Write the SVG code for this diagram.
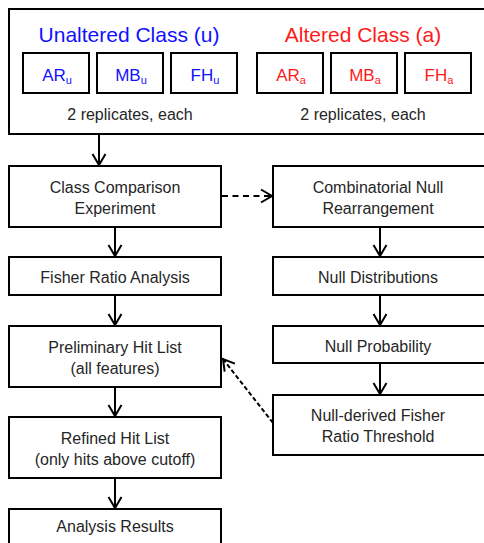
<svg xmlns="http://www.w3.org/2000/svg" width="484" height="543" viewBox="0 0 484 543">
<style>
.box{fill:#fff;stroke:#000;stroke-width:2}
.t{font-family:"Liberation Sans",Arial,sans-serif;font-size:16px;fill:#262626;text-anchor:middle}
.h{font-family:"Liberation Sans",Arial,sans-serif;font-size:21px;text-anchor:middle}
.s{font-family:"Liberation Sans",Arial,sans-serif;font-size:17px;text-anchor:middle}
.blue{fill:#1010ff}
.red{fill:#ff1a1a}
.sub{font-size:11px}
.c{fill:none;stroke:#000;stroke-width:2}
.d1{stroke-dasharray:6,4.5}
.d2{stroke-dasharray:4.5,2.5}
</style>
<defs>
<marker id="ah" markerUnits="userSpaceOnUse" viewBox="-14 -8 16 16" markerWidth="16" markerHeight="16" refX="0" refY="0" orient="auto">
<path d="M-11,-6.5 L0,0 L-11,6.5" fill="none" stroke="#000" stroke-width="2"/>
</marker>
</defs>
<rect width="484" height="543" fill="#fff"/>

<g id="classes">
<rect class="box" x="9" y="9" width="490" height="125"/>
<text class="h blue" x="129" y="41.5">Unaltered Class (u)</text>
<text class="h red" x="363" y="41.5">Altered Class (a)</text>
<g id="ARu"><rect class="box" x="23" y="53" width="66" height="40"/><text class="s blue" x="57" y="81">AR<tspan class="sub" dy="3">u</tspan></text></g>
<g id="MBu"><rect class="box" x="97" y="53" width="66" height="40"/><text class="s blue" x="131" y="81">MB<tspan class="sub" dy="3">u</tspan></text></g>
<g id="FHu"><rect class="box" x="171" y="53" width="66" height="40"/><text class="s blue" x="205" y="81">FH<tspan class="sub" dy="3">u</tspan></text></g>
<g id="ARa"><rect class="box" x="257" y="53" width="66" height="40"/><text class="s red" x="291" y="81">AR<tspan class="sub" dy="3">a</tspan></text></g>
<g id="MBa"><rect class="box" x="331" y="53" width="66" height="40"/><text class="s red" x="365" y="81">MB<tspan class="sub" dy="3">a</tspan></text></g>
<g id="FHa"><rect class="box" x="405" y="53" width="66" height="40"/><text class="s red" x="439" y="81">FH<tspan class="sub" dy="3">a</tspan></text></g>
<text class="t" x="130" y="120">2 replicates, each</text>
<text class="t" x="363" y="120">2 replicates, each</text>
</g>

<g id="classComparison">
<rect class="box" x="9" y="166" width="212" height="61"/>
<text class="t" x="115" y="193">Class Comparison</text>
<text class="t" x="115" y="214">Experiment</text>
</g>
<g id="combinatorialNull">
<rect class="box" x="273" y="166" width="230" height="61"/>
<text class="t" x="378" y="193">Combinatorial Null</text>
<text class="t" x="378" y="214">Rearrangement</text>
</g>
<g id="fisherRatio">
<rect class="box" x="9" y="257" width="212" height="38"/>
<text class="t" x="115" y="283">Fisher Ratio Analysis</text>
</g>
<g id="nullDistributions">
<rect class="box" x="273" y="257" width="230" height="38"/>
<text class="t" x="378" y="283">Null Distributions</text>
</g>
<g id="preliminaryHitList">
<rect class="box" x="9" y="326" width="212" height="61"/>
<text class="t" x="115" y="352.5">Preliminary Hit List</text>
<text class="t" x="115" y="373.5">(all features)</text>
</g>
<g id="nullProbability">
<rect class="box" x="273" y="326" width="230" height="37"/>
<text class="t" x="378" y="351.5">Null Probability</text>
</g>
<g id="nullThreshold">
<rect class="box" x="273" y="395" width="230" height="60"/>
<text class="t" x="378" y="421">Null-derived Fisher</text>
<text class="t" x="378" y="442">Ratio Threshold</text>
</g>
<g id="refinedHitList">
<rect class="box" x="9" y="417" width="212" height="61"/>
<text class="t" x="115" y="443.5">Refined Hit List</text>
<text class="t" x="115" y="465">(only hits above cutoff)</text>
</g>
<g id="analysisResults">
<rect class="box" x="9" y="509" width="212" height="60"/>
<text class="t" x="115" y="532">Analysis Results</text>
</g>

<g id="connectors">
<line class="c" x1="99" y1="134" x2="99" y2="165" marker-end="url(#ah)"/>
<line class="c" x1="115" y1="227" x2="115" y2="256" marker-end="url(#ah)"/>
<line class="c" x1="115" y1="295" x2="115" y2="325" marker-end="url(#ah)"/>
<line class="c" x1="115" y1="387" x2="115" y2="416" marker-end="url(#ah)"/>
<line class="c" x1="115" y1="478" x2="115" y2="508" marker-end="url(#ah)"/>
<line class="c" x1="380" y1="227" x2="380" y2="256" marker-end="url(#ah)"/>
<line class="c" x1="380" y1="295" x2="380" y2="325" marker-end="url(#ah)"/>
<line class="c" x1="380" y1="363" x2="380" y2="394" marker-end="url(#ah)"/>
<line class="c d1" x1="222" y1="196" x2="272" y2="196" marker-end="url(#ah)"/>
<line class="c d2" x1="273" y1="423" x2="223" y2="359" marker-end="url(#ah)"/>
</g>
</svg>
